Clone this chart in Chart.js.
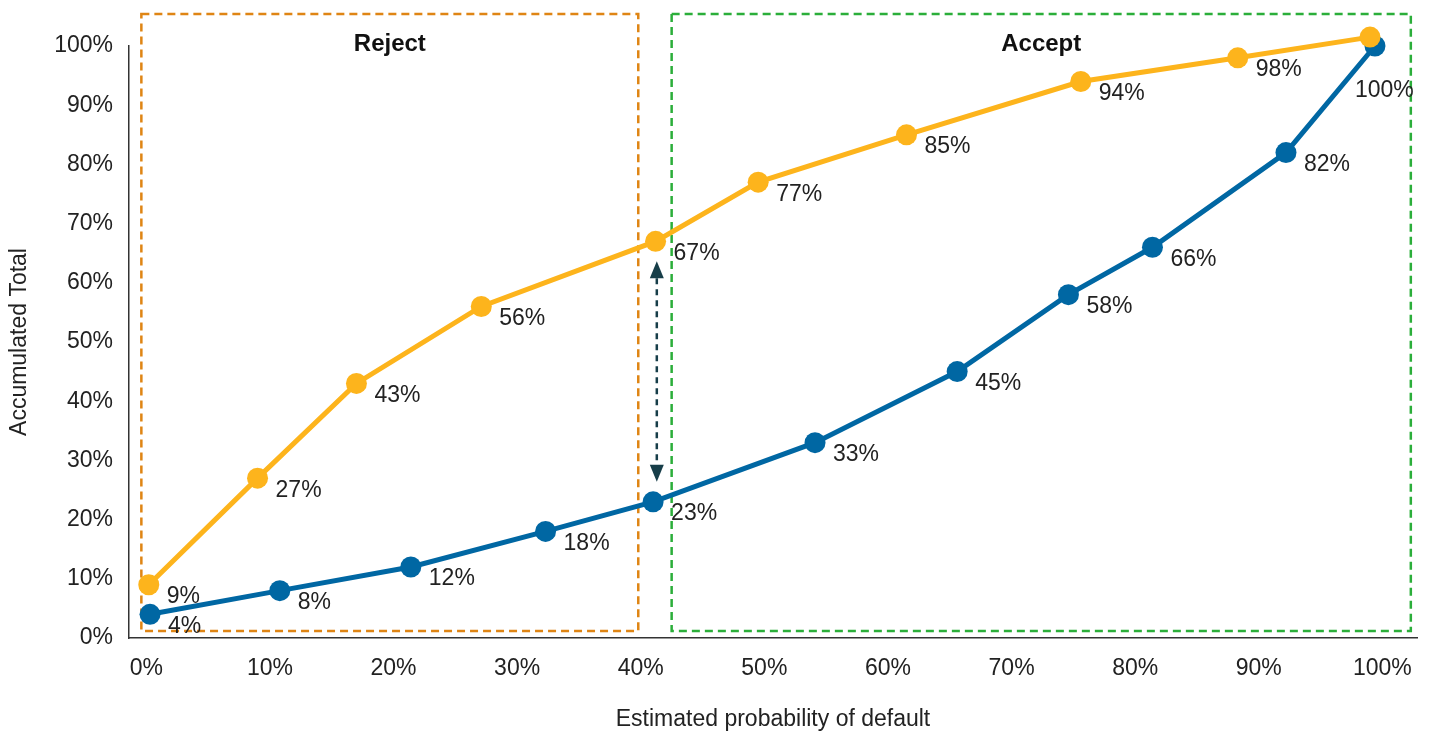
<!DOCTYPE html>
<html>
<head>
<meta charset="utf-8">
<script src="https://cdn.jsdelivr.net/npm/chart.js@4/dist/chart.umd.min.js"></script>
<style>
  html, body { margin: 0; padding: 0; background: #fff; }
  #wrap { width: 1434px; height: 735px; }
</style>
</head>
<body>
<div id="wrap"><canvas id="gains"></canvas></div>
<script>
// tick positions on both axes (percent)
const xTicks = [0, 10, 20, 30, 40, 50, 60, 70, 80, 90, 100];
const yTicks = [0, 10, 20, 30, 40, 50, 60, 70, 80, 90, 100];

// upper curve (yellow)
const upperX = [0.2, 9.0, 17.0, 27.1, 41.2, 49.5, 61.5, 75.6, 88.3, 99.0];
const upperY = [9, 27, 43, 56, 67, 77, 85, 94, 98, 101.5];

// lower curve (blue)
const lowerX = [0.3, 10.8, 21.4, 32.3, 41.0, 54.1, 65.6, 74.6, 81.4, 92.2, 99.4];
const lowerY = [4, 8, 12, 18, 23, 33, 45, 58, 66, 82, 100];

// decision zones along the x axis
const zoneNames = ['Reject', 'Accept'];
const zoneFrom = [-0.4, 42.5];
const zoneTo = [39.8, 102.3];

const FONT = '"Liberation Sans", Arial, sans-serif';
const TEXT = '#222';

const toPoints = (xs, ys) => xs.map((x, i) => ({ x: x, y: ys[i] }));

// dashed boxes with bold headings, drawn behind the lines
const zonesPlugin = {
  id: 'zones',
  beforeDatasetsDraw(chart) {
    const { ctx, scales: { x, y } } = chart;
    const colors = ['#DF8514', '#2BAE3A'];
    const top = y.getPixelForValue(105.4);
    const bottom = y.getPixelForValue(1.2);
    ctx.save();
    zoneNames.forEach((name, i) => {
      const left = x.getPixelForValue(zoneFrom[i]);
      const right = x.getPixelForValue(zoneTo[i]);
      ctx.strokeStyle = colors[i];
      ctx.lineWidth = 2.5;
      ctx.setLineDash([8, 5]);
      ctx.strokeRect(left, top, right - left, bottom - top);
      ctx.setLineDash([]);
      ctx.fillStyle = '#111';
      ctx.font = 'bold 24px ' + FONT;
      ctx.textAlign = 'center';
      ctx.textBaseline = 'middle';
      ctx.fillText(name, (left + right) / 2, top + 30);
    });
    ctx.restore();
  }
};

// double-headed dashed arrow between the two curves at the cut-off
const arrowPlugin = {
  id: 'gapArrow',
  afterDatasetsDraw(chart) {
    const { ctx } = chart;
    const a = chart.getDatasetMeta(0).data[4];
    const b = chart.getDatasetMeta(1).data[4];
    const ax = chart.scales.x.getPixelForValue(41.3);
    const y1 = a.y + 20, y2 = b.y - 20;
    const head = 17, half = 7;
    ctx.save();
    ctx.strokeStyle = '#173E49';
    ctx.fillStyle = '#173E49';
    ctx.lineWidth = 2.5;
    ctx.setLineDash([6, 5]);
    ctx.beginPath();
    ctx.moveTo(ax, y1 + head);
    ctx.lineTo(ax, y2 - head);
    ctx.stroke();
    ctx.setLineDash([]);
    ctx.beginPath();
    ctx.moveTo(ax, y1);
    ctx.lineTo(ax - half, y1 + head);
    ctx.lineTo(ax + half, y1 + head);
    ctx.closePath();
    ctx.fill();
    ctx.beginPath();
    ctx.moveTo(ax, y2);
    ctx.lineTo(ax - half, y2 - head);
    ctx.lineTo(ax + half, y2 - head);
    ctx.closePath();
    ctx.fill();
    ctx.restore();
  }
};

// percentage labels next to each point
const valueLabels = {
  id: 'valueLabels',
  afterDatasetsDraw(chart) {
    const { ctx } = chart;
    ctx.save();
    ctx.font = '23px ' + FONT;
    ctx.fillStyle = TEXT;
    ctx.textAlign = 'left';
    ctx.textBaseline = 'middle';
    chart.data.datasets.forEach((ds, di) => {
      const meta = chart.getDatasetMeta(di);
      meta.data.forEach((pt, i) => {
        if (ds.skipLabel && ds.skipLabel.includes(i)) return;
        let dx = 18, dy = 12;
        if (ds.below && ds.below.includes(i)) { dx = -20; dy = 45; }
        ctx.fillText(Math.round(ds.data[i].y) + '%', pt.x + dx, pt.y + dy);
      });
    });
    ctx.restore();
  }
};

const pct = v => v + '%';

new Chart(document.getElementById('gains'), {
  type: 'line',
  data: {
    datasets: [
      {
        data: toPoints(upperX, upperY),
        borderColor: '#FDB41C',
        backgroundColor: '#FDB41C',
        borderWidth: 5,
        pointRadius: 10.5,
        pointBorderWidth: 0,
        skipLabel: [9]
      },
      {
        data: toPoints(lowerX, lowerY),
        borderColor: '#0067A3',
        backgroundColor: '#0067A3',
        borderWidth: 5,
        pointRadius: 10.5,
        pointBorderWidth: 0,
        below: [10]
      }
    ]
  },
  options: {
    responsive: true,
    maintainAspectRatio: false,
    animation: false,
    clip: false,
    layout: { padding: { top: 46, right: 17, left: 0, bottom: 0 } },
    plugins: {
      legend: { display: false },
      tooltip: { enabled: false }
    },
    scales: {
      x: {
        type: 'linear',
        min: -1.4,
        max: 102.8,
        afterBuildTicks: s => { s.ticks = xTicks.map(v => ({ value: v })); },
        afterFit: s => { s.height = 97; },
        grid: { display: false, drawTicks: false },
        border: { display: true, color: '#333', width: 1.5 },
        ticks: {
          padding: 17,
          color: TEXT,
          font: { family: FONT, size: 23 },
          callback: pct,
          maxRotation: 0
        },
        title: {
          display: true,
          text: 'Estimated probability of default',
          color: TEXT,
          font: { family: FONT, size: 23 },
          padding: { top: 0, bottom: 2 }
        }
      },
      y: {
        type: 'linear',
        min: 0,
        max: 100,
        afterBuildTicks: s => { s.ticks = yTicks.map(v => ({ value: v })); },
        afterFit: s => { s.width = 129; },
        grid: { display: false, drawTicks: false },
        border: { display: true, color: '#333', width: 1.5 },
        ticks: {
          padding: 16,
          color: TEXT,
          font: { family: FONT, size: 23 },
          callback: pct
        },
        title: {
          display: true,
          text: 'Accumulated Total',
          color: TEXT,
          font: { family: FONT, size: 23 },
          padding: { top: 6, bottom: 0 }
        }
      }
    }
  },
  plugins: [zonesPlugin, arrowPlugin, valueLabels]
});
</script>
</body>
</html>
